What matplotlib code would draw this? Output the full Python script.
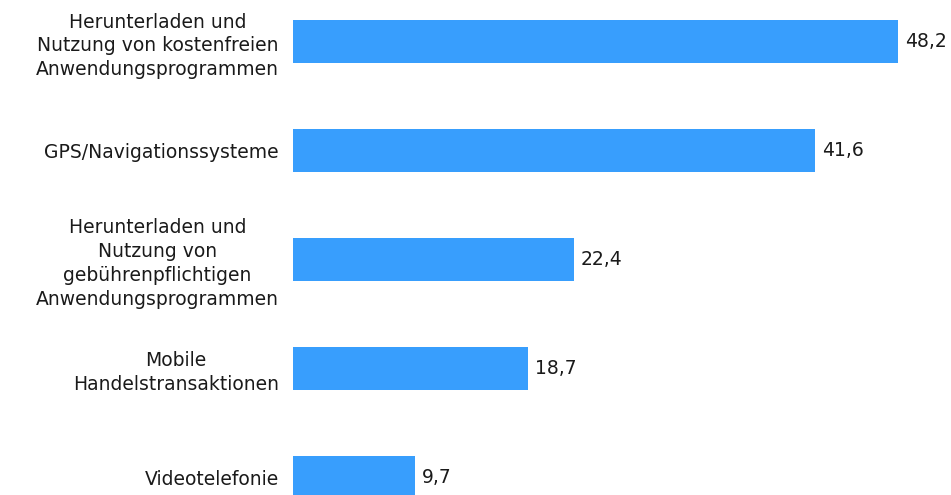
import matplotlib.pyplot as plt

categories = [
    "Herunterladen und\nNutzung von kostenfreien\nAnwendungsprogrammen",
    "GPS/Navigationssysteme",
    "Herunterladen und\nNutzung von\ngebührenpflichtigen\nAnwendungsprogrammen",
    "Mobile\nHandelstransaktionen",
    "Videotelefonie",
]
values = [48.2, 41.6, 22.4, 18.7, 9.7]

plt.rcParams['font.family'] = ['DejaVu Sans']

fig = plt.figure(figsize=(9.51, 4.95), dpi=100)
ax = fig.add_axes([293 / 951, 0, 1 - 293 / 951, 1])

pos = list(range(len(values)))
ax.barh(pos, values, height=0.395, color="#389efd")

ax.set_xlim(0, (951 - 293) / 12.55)
ax.set_ylim(4.164, -0.381)

ax.set_yticks(pos)
ax.set_yticklabels(categories, fontsize=13.5, color="#1a1a1a")
for t in ax.get_yticklabels():
    t.set_multialignment("center")
    t.set_linespacing(1.33)
ax.tick_params(axis="y", length=0, pad=10)
ax.set_xticks([])
for s in ax.spines.values():
    s.set_visible(False)

# value labels with a decimal comma
for y, v in zip(pos, values):
    ax.text(v + 0.55, y, f"{v:.1f}".replace(".", ","), va="center", ha="left",
            fontsize=13.5, color="#1a1a1a")

fig.savefig("out.png", dpi=100)
